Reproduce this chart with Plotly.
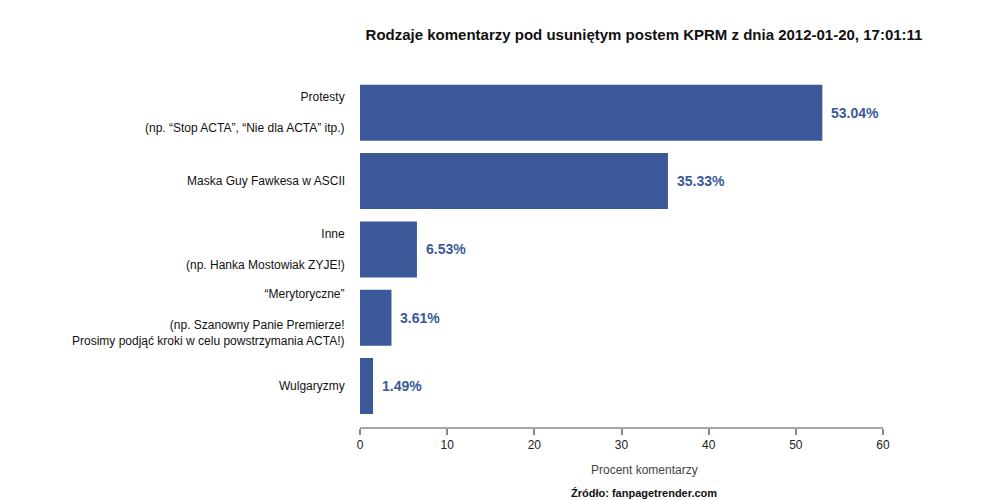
import plotly.graph_objects as go

categories = ["Wulgaryzmy", "“Merytoryczne”", "Inne", "Maska Guy Fawkesa w ASCII", "Protesty"]
label_lines = [
    ["Wulgaryzmy"],
    ["“Merytoryczne”", "", "(np. Szanowny Panie Premierze!", "Prosimy podjąć kroki w celu powstrzymania ACTA!)"],
    ["Inne", "", "(np. Hanka Mostowiak ZYJE!)"],
    ["Maska Guy Fawkesa w ASCII"],
    ["Protesty", "", "(np. “Stop ACTA”, “Nie dla ACTA” itp.)"],
]
values = [1.49, 3.61, 6.53, 35.33, 53.04]
value_labels = ["1.49%", "3.61%", "6.53%", "35.33%", "53.04%"]
x_ticks = [0, 10, 20, 30, 40, 50, 60]

BLUE = "rgb(59,89,152)"
FONT = "Liberation Sans, Arial, sans-serif"
ypos = list(range(len(categories)))

fig = go.Figure()
fig.add_trace(go.Bar(
    x=values, y=ypos, orientation="h",
    marker=dict(color=BLUE, line=dict(width=0)),
    width=0.82, hoverinfo="skip",
))

annotations = []
for i, lines in enumerate(label_lines):
    annotations.append(dict(
        text="<br>".join(l if l else " " for l in lines),
        xref="paper", x=0, xshift=-13, xanchor="right", align="right",
        yref="y", y=ypos[i], yanchor="middle", showarrow=False,
        font=dict(family=FONT, size=12, color="#111"),
    ))
for i, v in enumerate(values):
    annotations.append(dict(
        text="<b>%s</b>" % value_labels[i],
        xref="x", x=v, xshift=7, xanchor="left",
        yref="y", y=ypos[i], yanchor="middle", showarrow=False,
        font=dict(family=FONT, size=14, color=BLUE),
    ))
annotations.append(dict(
    text="Procent komentarzy", xref="paper", x=0.5, yref="paper", y=0,
    yshift=-42, yanchor="middle", showarrow=False,
    font=dict(family=FONT, size=12, color="#444"),
))
annotations.append(dict(
    text="<b>Źródło: fanpagetrender.com</b>", xref="paper", x=0.5, yref="paper", y=0,
    yshift=-65, yanchor="middle", showarrow=False,
    font=dict(family=FONT, size=11, color="#111"),
))

fig.update_layout(
    width=1000, height=500,
    paper_bgcolor="white", plot_bgcolor="white",
    margin=dict(l=360, r=72, t=80, b=72),
    showlegend=False,
    title=dict(
        text="<b>Rodzaje komentarzy pod usuniętym postem KPRM z dnia 2012-01-20, 17:01:11</b>",
        x=0.5, xref="paper", xanchor="center", y=1 - 35 / 500, yanchor="middle",
        font=dict(family=FONT, size=15, color="#111"),
    ),
    xaxis=dict(
        range=[0, 60 * (928 - 360) / (883 - 360)],
        tickvals=x_ticks, ticktext=[str(t) for t in x_ticks],
        ticks="outside", ticklen=6, tickwidth=1.5, tickcolor="#888",
        showline=False, showgrid=False, zeroline=False,
        tickfont=dict(family=FONT, size=12, color="#222"),
        fixedrange=True,
    ),
    yaxis=dict(
        range=[-0.615, 4.48], showticklabels=False, showgrid=False,
        zeroline=False, showline=False, ticks="", fixedrange=True,
    ),
    annotations=annotations,
    shapes=[dict(type="line", xref="x", yref="paper", x0=0, x1=60, y0=0, y1=0,
                 line=dict(color="#888", width=1.5))],
)

fig.write_html("out.html", config={"displayModeBar": False},
               post_script="document.body.style.margin='0';document.body.style.overflow='hidden';")
